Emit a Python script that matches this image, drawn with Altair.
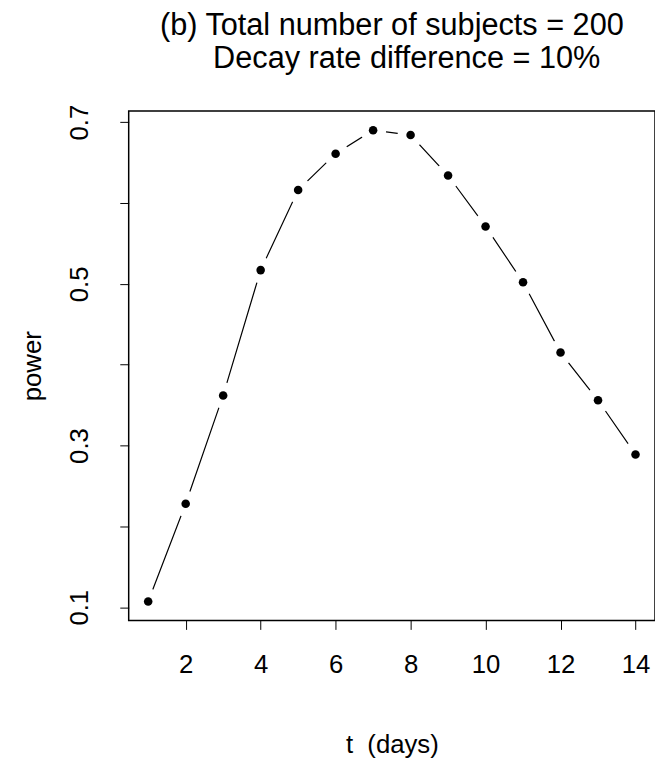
import altair as alt
import pandas as pd

t_days = [1, 2, 3, 4, 5, 6, 7, 8, 9, 10, 11, 12, 13, 14]
power = [0.107, 0.228, 0.362, 0.517, 0.616, 0.661, 0.690, 0.684,
         0.634, 0.571, 0.502, 0.415, 0.356, 0.289]
x_ticks = [2, 4, 6, 8, 10, 12, 14]
y_ticks = [0.1, 0.2, 0.3, 0.4, 0.5, 0.6, 0.7]
title_line1 = "(b) Total number of subjects = 200"
title_line2 = "Decay rate difference = 10%"

df = pd.DataFrame({"t": t_days, "power": power})
df_sub = pd.DataFrame({"label": [title_line2]})

FONT = "Liberation Sans"

x_enc = alt.X(
    "t:Q",
    scale=alt.Scale(domain=[0.48, 14.52], nice=False, zero=False),
    axis=alt.Axis(
        values=x_ticks, domain=False, grid=False, tickSize=9, tickColor="black",
        tickWidth=1, labelFont=FONT, labelFontSize=26, labelColor="black",
        labelPadding=36, labelBaseline="middle", labelFlush=False,
        title="t\u00a0\u00a0(days)", titleFont=FONT, titleFontSize=26,
        titleFontWeight="normal", titleColor="black", titleY=125,
        titleBaseline="middle",
    ),
)
y_enc = alt.Y(
    "power:Q",
    scale=alt.Scale(domain=[0.0836, 0.7138], nice=False, zero=False),
    axis=alt.Axis(
        values=y_ticks, domain=False, grid=False, tickSize=9, tickColor="black",
        tickWidth=1, labelFont=FONT, labelFontSize=26, labelColor="black",
        labelAngle=270, labelAlign="center", labelBaseline="middle",
        labelPadding=41, labelFlush=False,
        labelExpr="round(datum.value*10) % 2 == 1 ? format(datum.value, '.1f') : ''",
        title="power", titleFont=FONT, titleFontSize=26, titleFontWeight="normal",
        titleColor="black", titleX=-97, titleAngle=270, titleBaseline="middle",
    ),
)

base = alt.Chart(df)
line = base.mark_line(color="black", strokeWidth=1.2).encode(x=x_enc, y=y_enc)
halo = base.mark_point(filled=True, shape="circle", color="white", opacity=1,
                       size=700).encode(x="t:Q", y="power:Q")
pts = base.mark_point(filled=True, shape="circle", color="black", opacity=1,
                      size=75).encode(x="t:Q", y="power:Q")
sub = alt.Chart(df_sub).mark_text(
    font=FONT, fontSize=31, color="black", align="center", baseline="middle",
    clip=False,
).encode(text="label:N", x=alt.value(281), y=alt.value(-52))

chart = alt.layer(line, halo, pts, sub).properties(
    width=532, height=515,
    title=alt.Title(text=title_line1, font=FONT, fontSize=31, fontWeight="normal",
                    color="black", anchor="middle", offset=2),
    autosize=alt.AutoSizeParams(type="none"),
    padding={"left": 122, "top": 100, "right": 0, "bottom": 145},
    background="white",
).configure_view(stroke="#000000", strokeWidth=1.5)

chart.save("out.html", embed_options={"renderer": "svg", "actions": False})
